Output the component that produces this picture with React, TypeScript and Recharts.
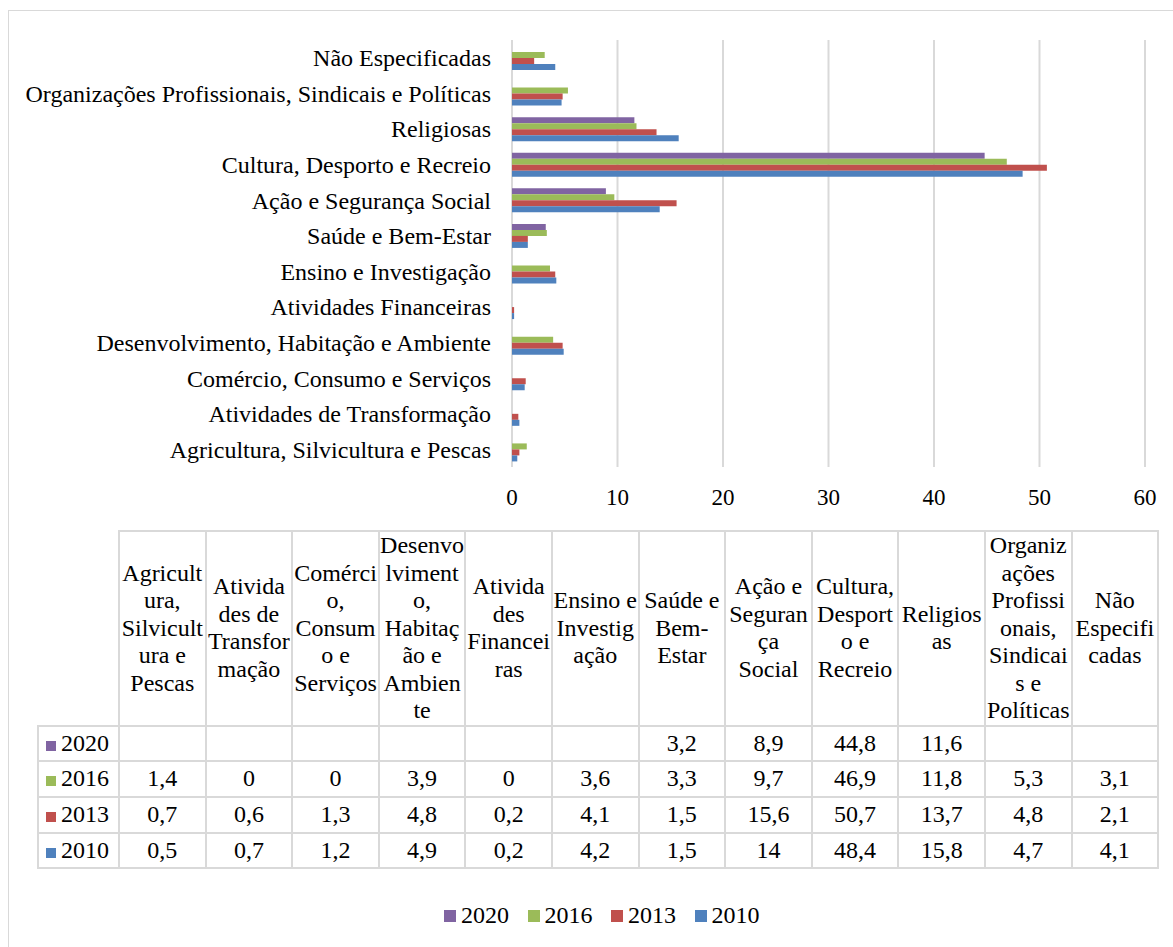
import { BarChart, Bar, XAxis, YAxis, CartesianGrid } from "recharts";

const categories = [
  "Agricultura, Silvicultura e Pescas",
  "Atividades de Transformação",
  "Comércio, Consumo e Serviços",
  "Desenvolvimento, Habitação e Ambiente",
  "Atividades Financeiras",
  "Ensino e Investigação",
  "Saúde e Bem-Estar",
  "Ação e Segurança Social",
  "Cultura, Desporto e Recreio",
  "Religiosas",
  "Organizações Profissionais, Sindicais e Políticas",
  "Não Especificadas",
];

// header text of the data table, split where the cell wraps it
const headerLines = [
  ["Agricult", "ura,", "Silvicult", "ura e", "Pescas"],
  ["Ativida", "des de", "Transfor", "mação"],
  ["Comérci", "o,", "Consum", "o e", "Serviços"],
  ["Desenvo", "lviment", "o,", "Habitaç", "ão e", "Ambien", "te"],
  ["Ativida", "des", "Financei", "ras"],
  ["Ensino e", "Investig", "ação"],
  ["Saúde e", "Bem-", "Estar"],
  ["Ação e", "Seguran", "ça", "Social"],
  ["Cultura,", "Desport", "o e", "Recreio"],
  ["Religios", "as"],
  ["Organiz", "ações", "Profissi", "onais,", "Sindicai", "s e", "Políticas"],
  ["Não", "Especifi", "cadas"],
];

const v2020 = [null, null, null, null, null, null, 3.2, 8.9, 44.8, 11.6, null, null];
const v2016 = [1.4, 0, 0, 3.9, 0, 3.6, 3.3, 9.7, 46.9, 11.8, 5.3, 3.1];
const v2013 = [0.7, 0.6, 1.3, 4.8, 0.2, 4.1, 1.5, 15.6, 50.7, 13.7, 4.8, 2.1];
const v2010 = [0.5, 0.7, 1.2, 4.9, 0.2, 4.2, 1.5, 14, 48.4, 15.8, 4.7, 4.1];

const xTicks = [0, 10, 20, 30, 40, 50, 60];

const series = [
  { key: "y2020", name: "2020", color: "#8064A2", values: v2020 },
  { key: "y2016", name: "2016", color: "#9BBB59", values: v2016 },
  { key: "y2013", name: "2013", color: "#C0504D", values: v2013 },
  { key: "y2010", name: "2010", color: "#4F81BD", values: v2010 },
];

const data = categories.map((name, i) => {
  const row: any = { name };
  series.forEach((s) => (row[s.key] = s.values[i]));
  return row;
});

const FONT = '"Liberation Serif", "Times New Roman", serif';
const GRID = "#d9d9d9";
const fmt = (v: number | null) => (v === null ? "" : String(v).replace(".", ","));

const cell: any = {
  border: `2px solid ${GRID}`,
  textAlign: "center",
  verticalAlign: "middle",
  padding: 0,
  fontSize: 24,
  lineHeight: "27.5px",
  whiteSpace: "nowrap",
};

export default function App() {
  return (
    <div style={{ position: "relative", width: 1173, height: 947, overflow: "hidden", fontFamily: FONT, background: "#fff" }}>
      <style>{`body{margin:0}`}</style>
      <div style={{ position: "absolute", left: 8, top: 10, width: 1300, height: 1000, borderLeft: `1px solid ${GRID}`, borderTop: `1px solid ${GRID}` }} />

      <div style={{ position: "absolute", left: 0, top: 0 }}>
        <BarChart
          width={1173}
          height={520}
          data={data}
          layout="vertical"
          margin={{ top: 40, right: 28, left: 0, bottom: 0 }}
          barSize={6}
          barGap={0}
        >
          <CartesianGrid horizontal={false} stroke={GRID} strokeWidth={2} />
          <XAxis
            type="number"
            domain={[0, 60]}
            ticks={xTicks}
            height={53}
            axisLine={false}
            tickLine={false}
            tickMargin={16}
            tick={{ fill: "#000", fontSize: 23, fontFamily: FONT }}
          />
          <YAxis
            type="category"
            dataKey="name"
            reversed
            width={512}
            axisLine={false}
            tickLine={false}
            tickMargin={15}
            interval={0}
            tick={{ fill: "#000", fontSize: 24, fontFamily: FONT }}
          />
          {series.map((s) => (
            <Bar key={s.key} dataKey={s.key} name={s.name} fill={s.color} isAnimationActive={false} />
          ))}
        </BarChart>
      </div>

      <table
        style={{
          position: "absolute",
          left: 37,
          top: 530,
          borderCollapse: "collapse",
          tableLayout: "fixed",
          width: 1120,
          fontFamily: FONT,
          color: "#000",
        }}
      >
        <colgroup>
          <col style={{ width: 81 }} />
          {categories.map((c) => (
            <col key={c} style={{ width: 86.6 }} />
          ))}
        </colgroup>
        <tbody>
          <tr style={{ height: 193 }}>
            <td style={{ ...cell, border: "none" }} />
            {headerLines.map((lines, i) => (
              <td key={i} style={cell}>
                {lines.map((l, j) => (
                  <div key={j}>{l}</div>
                ))}
              </td>
            ))}
          </tr>
          {series.map((s) => (
            <tr key={s.key} style={{ height: 35.7 }}>
              <td style={{ ...cell, textAlign: "left", paddingLeft: 7 }}>
                <span style={{ display: "inline-block", width: 10, height: 10, background: s.color, marginRight: 5 }} />
                {s.name}
              </td>
              {s.values.map((v, i) => (
                <td key={i} style={cell}>
                  {fmt(v)}
                </td>
              ))}
            </tr>
          ))}
        </tbody>
      </table>

      <div style={{ position: "absolute", left: 444, top: 902, display: "flex", fontSize: 24, lineHeight: "27px" }}>
        {series.map((s) => (
          <div key={s.key} style={{ display: "flex", alignItems: "center", width: 83.5 }}>
            <span style={{ display: "inline-block", width: 12, height: 12, background: s.color, marginRight: 5 }} />
            <span>{s.name}</span>
          </div>
        ))}
      </div>
    </div>
  );
}
